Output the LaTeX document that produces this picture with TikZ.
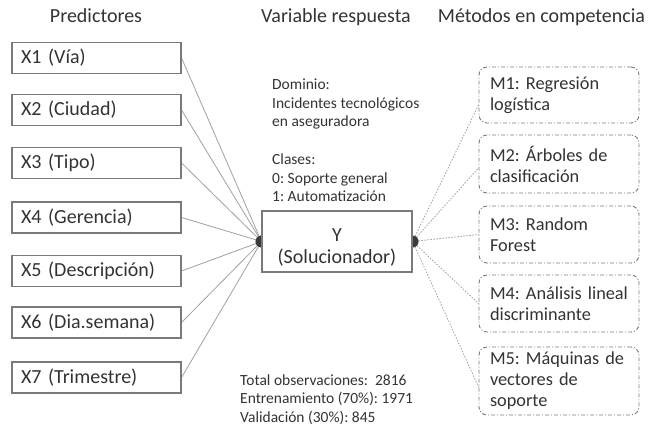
\documentclass[tikz,border=0pt]{standalone}
\usepackage{fontspec}
\setmainfont{Carlito}
\frenchspacing
\usetikzlibrary{backgrounds}
\definecolor{txt}{HTML}{333333}
\definecolor{boxc}{HTML}{7A7A7A}
\definecolor{linec}{HTML}{A0A0A0}
\definecolor{dotc}{HTML}{3A3A3A}
\begin{document}
\begin{tikzpicture}[x=1pt,y=-1pt,
  hdr/.style={anchor=base, inner sep=0pt, text=txt, font=\fontsize{20}{22}\selectfont},
  xbox/.style={draw=boxc, line width=1.1pt, fill=white, text width=151pt, inner xsep=9pt, inner ysep=0pt,
               minimum height=31pt, align=left, text=txt, font=\fontsize{20}{22}\selectfont},
  ybox/.style={draw=boxc, line width=1.1pt, fill=white, minimum width=150pt, minimum height=61pt,
               inner sep=0pt, align=center, text=txt, font=\fontsize{20}{22}\selectfont},
  mbox/.style={draw=boxc, line width=0.9pt, rounded corners=8pt, dash pattern=on 4pt off 2pt on 1pt off 2pt,
               fill=white, text width=138pt, inner xsep=11pt, inner ysep=0pt, align=left, text=txt,
               font=\fontsize{18.3}{21}\selectfont},
  note/.style={anchor=north west, inner sep=0pt, align=left, text=txt, font=\fontsize{15.5}{18.5}\selectfont},
  xline/.style={draw=linec, line width=0.8pt},
  mline/.style={draw=linec, line width=0.8pt, dash pattern=on 1.5pt off 1.5pt},
  ]
\useasboundingbox (0,0) rectangle (648,427);

% headers
\node[hdr] (h1) at (96,23) {Predictores};
\node[hdr] (h2) at (336,23) {Variable respuesta};
\node[hdr] (h3) at (541.5,23) {Métodos en competencia};

% predictor boxes
\node[xbox] (x1) at (96.5,58) {X1 (Vía)};
\node[xbox] (x2) at (96.5,110) {X2 (Ciudad)};
\node[xbox] (x3) at (96.5,163) {X3 (Tipo)};
\node[xbox] (x4) at (96.5,217.5) {X4 (Gerencia)};
\node[xbox] (x5) at (96.5,271) {X5 (Descripción)};
\node[xbox] (x6) at (96.5,322.5) {X6 (Dia.semana)};
\node[xbox] (x7) at (96.5,377.5) {X7 (Trimestre)};

% response box
\node[ybox] (y) at (337,241.5) {\rule{0pt}{25pt}Y\\(Solucionador)};

% method boxes
\node[mbox, minimum height=56pt] (m1) at (559,95) {M1: Regresión\\logística};
\node[mbox, minimum height=58pt] (m2) at (559,164) {M2: Árboles de\\clasificación};
\node[mbox, minimum height=57pt] (m3) at (559,234.5) {M3: Random\\Forest};
\node[mbox, minimum height=57pt] (m4) at (559,303.5) {M4: Análisis lineal\\discriminante};
\node[mbox, minimum height=68pt] (m5) at (559,381) {M5: Máquinas de\\vectores de\\soporte};

% notes
\node[note] (dom) at (272,79) {Dominio:\\Incidentes tecnológicos\\en aseguradora};
\node[note] (cls) at (272,154) {Clases:\\0: Soporte general\\1: Automatización};
\node[note] (obs) at (240,374.5) {Total observaciones:\ \ 2816\\Entrenamiento (70\%): 1971\\Validación (30\%): 845};

% connectors and junction dots (behind the boxes)
\begin{scope}[on background layer]
  \foreach \i in {1,...,7} \draw[xline] (x\i.east) -- (y.west);
  \draw[mline] (y.east) -- ([yshift=-10pt]m1.west);
  \draw[mline] (y.east) -- ([yshift=-4pt]m2.west);
  \draw[mline] (y.east) -- (m3.west);
  \draw[mline] (y.east) -- (m4.west);
  \draw[mline] (y.east) -- ([yshift=-6pt]m5.west);
  \fill[dotc] (y.west) circle (6pt);
  \fill[dotc] (y.east) circle (6pt);
\end{scope}
\end{tikzpicture}
\end{document}
